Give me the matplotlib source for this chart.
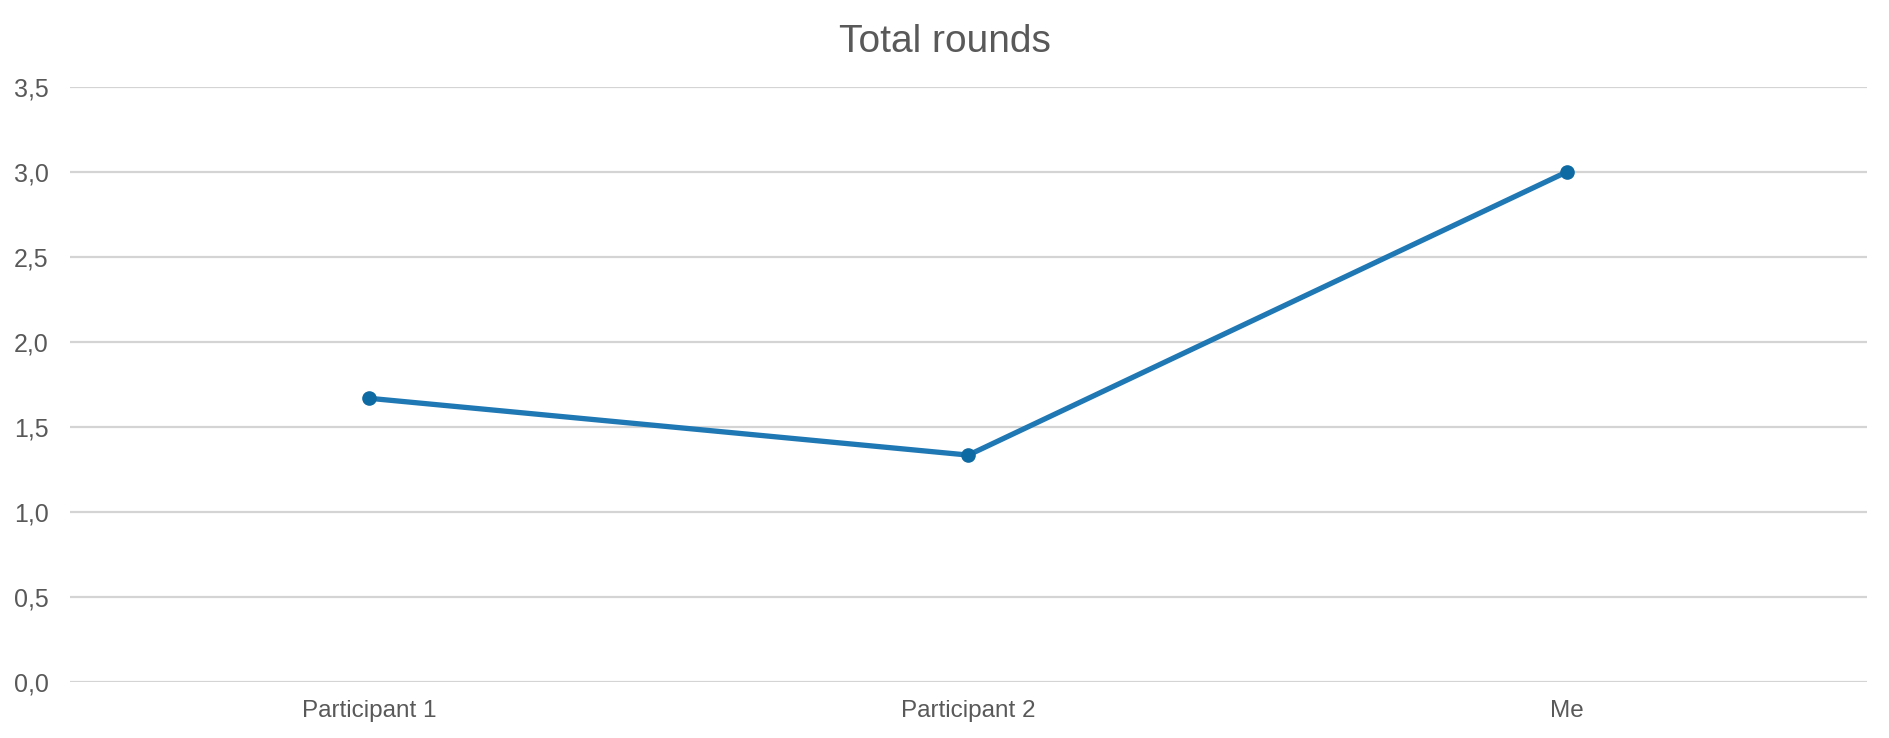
import matplotlib
matplotlib.use("Agg")
import matplotlib.pyplot as plt
from matplotlib.ticker import FuncFormatter

# Data.
categories = ["Participant 1", "Participant 2", "Me"]
total_rounds = [1.667, 1.333, 3.0]
y_ticks = [0, 0.5, 1.0, 1.5, 2.0, 2.5, 3.0, 3.5]

plt.rcParams["font.family"] = ["Liberation Sans", "DejaVu Sans"]
text_color = "#595959"

fig = plt.figure(figsize=(18.9, 7.38), dpi=100)
ax = fig.add_axes([70 / 1890, (738 - 681.7) / 738,
                   (1866.7 - 70) / 1890, (681.7 - 86.7) / 738])

x = range(len(categories))
ax.plot(x, total_rounds, color="#1f77b4", linewidth=3.8, zorder=3,
        marker="o", markersize=9.5, markerfacecolor="#0e6aa3",
        markeredgecolor="#0e6aa3")

ax.set_xlim(-0.5, len(categories) - 0.5)
ax.set_ylim(0, 3.5)
ax.set_yticks(y_ticks)
ax.yaxis.set_major_formatter(FuncFormatter(lambda v, p: f"{v:.1f}".replace(".", ",")))
ax.set_xticks(list(x))
ax.set_xticklabels(categories)

ax.grid(axis="y", color="#d4d4d4", linewidth=1.6)
ax.set_axisbelow(True)
for side in ["top", "right", "left", "bottom"]:
    ax.spines[side].set_visible(False)
ax.tick_params(axis="both", length=0, labelcolor=text_color)
ax.tick_params(axis="y", pad=15.5, labelsize=18)
ax.tick_params(axis="x", pad=13, labelsize=17.5)

fig.text(0.5, 1 - 42 / 738, "Total rounds", ha="center", va="center",
         fontsize=28, color=text_color)

fig.savefig("out.png", dpi=100)
